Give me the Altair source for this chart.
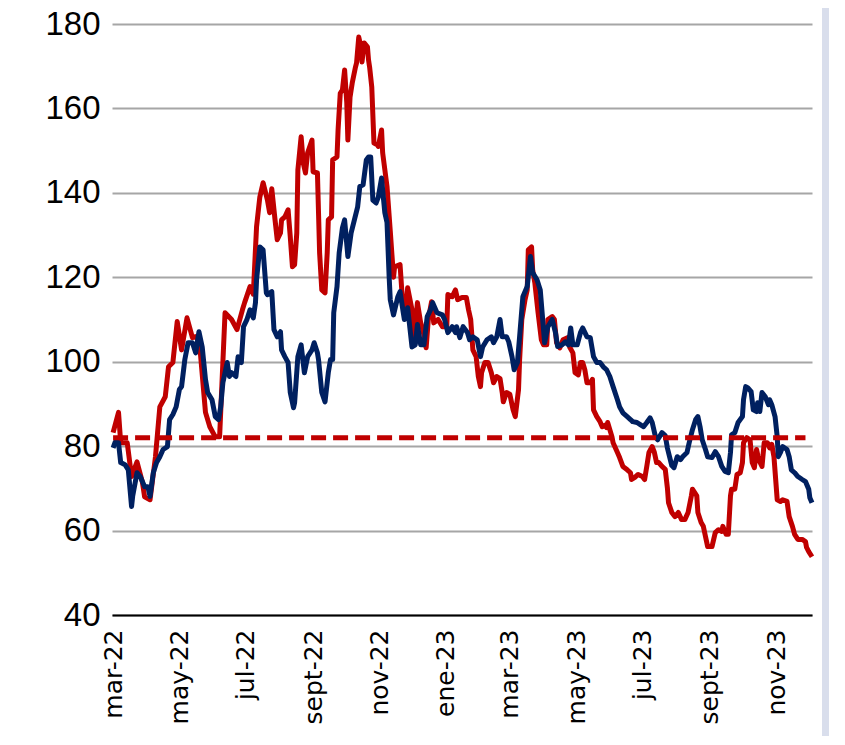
import altair as alt
import pandas as pd

# day offsets from 2022-03-01 and values
red_days = [0,5,7,13,17,22,27,29,34,39,43,48,51,55,59,63,68,73,77,80,85,89,94,98,103,109,114,119,121,126,129,132,135,138,142,144,146,149,151,154,155,158,161,163,165,167,169,170,173,175,177,179,183,184,188,189,190,192,195,197,198,201,202,206,207,209,211,213,215,216,218,220,223,224,226,228,229,231,234,235,236,238,240,243,244,247,248,252,255,258,259,264,266,269,271,275,277,280,283,285,288,290,293,295,299,303,307,308,312,315,317,321,325,327,329,331,334,336,338,339,342,345,348,350,353,356,358,359,362,365,368,370,373,374,376,379,381,382,385,386,388,391,394,396,399,400,404,406,408,411,414,418,420,423,425,428,430,432,434,436,439,441,442,445,448,450,453,454,455,459,460,464,466,469,473,476,477,480,483,487,489,491,493,496,498,500,502,505,508,510,511,514,517,520,523,526,529,532,533,537,538,541,543,545,547,551,554,557,560,561,564,566,568,569,572,574,577,579,580,583,586,588,590,592,594,597,599,602,604,606,608,611,614,616,620,622,625,627,630,634,637,638,640,643]
red_vals = [83.2,88,80.8,80.8,72.8,76.3,71.4,68,67.3,77.5,89.3,91.7,98.8,99.8,109.5,102.8,110.4,105.7,106,103,88,84.6,82.2,82.2,111.6,110,107.6,112.3,114,117.8,116,132,139,142.4,138.3,135.3,141,133.6,128.9,130.5,133.6,134.3,136,129.6,122.5,123,130.5,145.4,153.3,147,144.7,149.5,152.5,145,144.7,135.3,125.8,117,116.3,125.8,133.6,134.3,147.8,148.5,154.9,163.6,164.4,169.1,161.3,152.5,162.7,166,169.8,170.8,176.9,174.6,171,175.5,174.6,171.5,169.8,165,151.8,151.4,151,154.9,149.5,141.5,131,120,122.5,123,115.4,111.6,117.5,112.3,105.9,114,109.2,107.6,103.3,110,114.2,109.2,110,108.3,108.3,115.9,115.4,117,114.7,115.2,115.2,112.3,110,102.8,101.2,96.5,94.1,97.4,99.8,99.8,97.4,95,96.5,96,92.7,90.5,92.7,92.3,88.6,87,93.4,100.5,110,114.7,117,126.5,127.2,121.8,118.7,111.6,105.2,104,104,110,110.7,110,104.5,103.3,105.2,105.7,103.5,102.1,97.4,96.9,99.8,99.8,98.1,95,95,95.8,88.6,87,85.8,84.6,85,84.4,85.6,82.2,80.8,78.5,77.3,75.2,74.4,73.7,72.1,72.6,73.3,72.8,72.1,75.2,78.5,79.9,78.5,76.1,76.1,75.2,74.5,70,66.6,64.3,63.3,64.3,62.6,62.6,64.3,68.2,69.8,68.2,64.3,61.9,61,58.6,56.2,56.2,59.5,60.2,59.8,61,59.1,59.1,68.2,69.8,69.8,73.3,73.7,76.1,80.8,82,81.5,76.1,74.9,79.2,76.8,75.2,80.8,80.8,79.6,80.4,77.5,67.3,66.9,67.3,66.9,63.3,61,59.1,57.9,57.9,57.4,56,55,53.8]

blue_days = [0,2,5,7,11,14,17,18,22,25,29,32,34,37,40,43,46,50,52,55,58,61,63,66,69,73,76,79,82,85,87,91,94,97,99,101,105,107,109,113,115,118,120,123,126,129,131,132,135,138,141,142,146,148,151,154,155,158,161,163,166,167,170,173,176,179,183,185,188,189,192,195,198,200,202,203,206,208,211,213,216,219,222,225,227,230,233,235,237,239,242,244,247,248,250,252,254,255,258,262,264,267,268,271,275,278,280,283,286,289,292,294,298,303,305,308,312,315,316,319,322,326,328,331,335,338,340,344,348,350,353,356,358,362,364,367,369,372,374,377,381,384,386,390,393,395,397,400,404,407,409,413,416,419,421,423,427,430,432,436,439,442,445,448,451,454,457,460,464,466,469,473,476,478,482,485,488,491,494,496,499,501,505,508,510,514,516,519,522,524,528,530,533,536,538,540,542,545,547,551,554,557,560,563,566,568,569,572,575,579,580,582,584,587,589,592,593,595,597,600,603,604,606,609,611,612,614,616,620,622,624,627,630,634,637,640,641,643]
blue_vals = [79.6,81,80.8,76.1,75.6,74.4,65.7,68.1,73.7,72.8,70.4,70.4,68.1,73.7,76.1,77.5,79.2,79.9,86.3,87.5,89.3,93.4,94.1,100.5,104.5,104.5,102.1,107.1,103.5,95.8,92.7,91,87,86.3,89.3,95,99.8,96.5,97.4,96.5,101.2,99.8,108.3,109.9,112.3,110.4,114,119.4,127.2,126.5,116.3,115.9,116.6,107.6,105.9,107.1,102.8,101.2,99.8,92.7,89.1,90.3,101.2,104,97.4,101.2,102.8,104.5,102.1,100.5,92.7,90.5,97.4,100.5,100.5,111.6,117.8,125.8,131.7,133.6,124.9,130.5,133.6,136.7,141.5,141.9,147.8,148.5,148.5,138.3,137.6,139,143.5,140.7,135.3,133,120,114.7,111.1,115.4,116.6,111.6,110,112.8,103.5,104,108.8,104,104,110.7,112.3,114,111.6,111.1,110,106.9,108.3,106.9,108.3,105.7,108.3,106.9,105.2,105.9,105.2,101.2,103.5,105.2,105.9,104.5,105.9,110,105.9,105.9,104.7,101.2,98.1,99.8,105.9,115.4,117.8,124.9,121.1,119.4,117,110.7,104.5,108.3,110,106.9,103.6,104,104.7,104,108,104,104,106.9,108,105.9,105.7,101.2,99.8,99.8,98.8,98.1,96.5,94.1,91,89.3,87.9,87,86.3,85.8,85.6,85.1,84.6,85.6,86.7,85.6,82.2,81.5,83.2,82.5,79.5,75.4,74.9,77.5,76.8,77.5,78.5,80.8,83.9,86.3,87,84.6,81.5,79.2,77.5,77.3,78.7,77.5,75.2,74,73.7,78.5,82.7,83.2,85.6,87,91,94.1,93.8,92.9,88.6,88.2,90.3,88.2,92.7,91.7,89.8,91,89.8,87,82.2,77.5,78.5,79.9,79.2,77.5,74.4,73.7,72.8,72.1,71.6,69.8,67.8,66.6]

ref_days = [0, 637]
ref_vals = [82, 82]

tick_dates = ["2022-03-01","2022-05-01","2022-07-01","2022-09-01","2022-11-01","2023-01-01",
              "2023-03-01","2023-05-01","2023-07-01","2023-09-01","2023-11-01"]
tick_labels = ["mar-22","may-22","jul-22","sept-22","nov-22","ene-23",
               "mar-23","may-23","jul-23","sept-23","nov-23"]
y_ticks = [40, 60, 80, 100, 120, 140, 160, 180]

start = pd.Timestamp("2022-03-01")
def mk(days, vals, name):
    return pd.DataFrame({"date": [(start + pd.Timedelta(days=d)).strftime("%Y-%m-%dT%H:%M:%S") for d in days],
                         "value": vals, "serie": name})

red_df = mk(red_days, red_vals, "red")
blue_df = mk(blue_days, blue_vals, "blue")
ref_df = mk(ref_days, ref_vals, "ref")

keys = [d[:7] for d in tick_dates]
label_expr = ("[" + ",".join("'%s'" % l for l in tick_labels) + "][indexof([" +
              ",".join("'%s'" % k for k in keys) + "], timeFormat(datum.value, '%Y-%m'))]")

tick_dt = [alt.DateTime(year=int(d[:4]), month=int(d[5:7]), date=1) for d in tick_dates]

xscale = alt.Scale(domain=[alt.DateTime(year=2022, month=2, date=28),
                           alt.DateTime(year=2023, month=12, date=4)])
yscale = alt.Scale(domain=[40, 180], nice=False)

xaxis = alt.Axis(values=tick_dt, labelExpr=label_expr, labelAngle=270, labelAlign="right",
                 labelBaseline="middle", labelFont="DejaVu Sans", labelFontSize=25,
                 labelColor="#000000", labelPadding=14, ticks=False, grid=False,
                 domainColor="#000000", domainWidth=2, title=None, labelOverlap=False)
yaxis = alt.Axis(values=y_ticks, labelFont="Liberation Sans", labelFontSize=33,
                 labelColor="#000000", labelPadding=12, ticks=False, domain=False,
                 grid=True, gridColor="#A6A6A6", gridWidth=2, title=None)

bg_bar = alt.Chart(pd.DataFrame({"a": [0]})).mark_rect(color="#D9DEEC").encode(
    x=alt.value(710), x2=alt.value(717), y=alt.value(-16), y2=alt.value(730))

red = alt.Chart(red_df).mark_line(color="#C00000", strokeWidth=5, strokeJoin="round").encode(
    x=alt.X("date:T", scale=xscale, axis=xaxis),
    y=alt.Y("value:Q", scale=yscale, axis=yaxis))
blue = alt.Chart(blue_df).mark_line(color="#002060", strokeWidth=5, strokeJoin="round").encode(
    x=alt.X("date:T", scale=xscale),
    y=alt.Y("value:Q", scale=yscale))
ref = alt.Chart(ref_df).mark_line(color="#C00000", strokeWidth=5, strokeDash=[15, 7]).encode(
    x=alt.X("date:T", scale=xscale),
    y=alt.Y("value:Q", scale=yscale))

chart = alt.layer(bg_bar, red, blue, ref).properties(
    width=700, height=591,
    padding={"left": 104, "top": 16, "right": 25, "bottom": 121},
    autosize=alt.AutoSizeParams(type="none"),
    background="#FFFFFF",
).configure_view(stroke=None)

chart.save("out.html", embed_options={"renderer": "svg", "actions": False})
